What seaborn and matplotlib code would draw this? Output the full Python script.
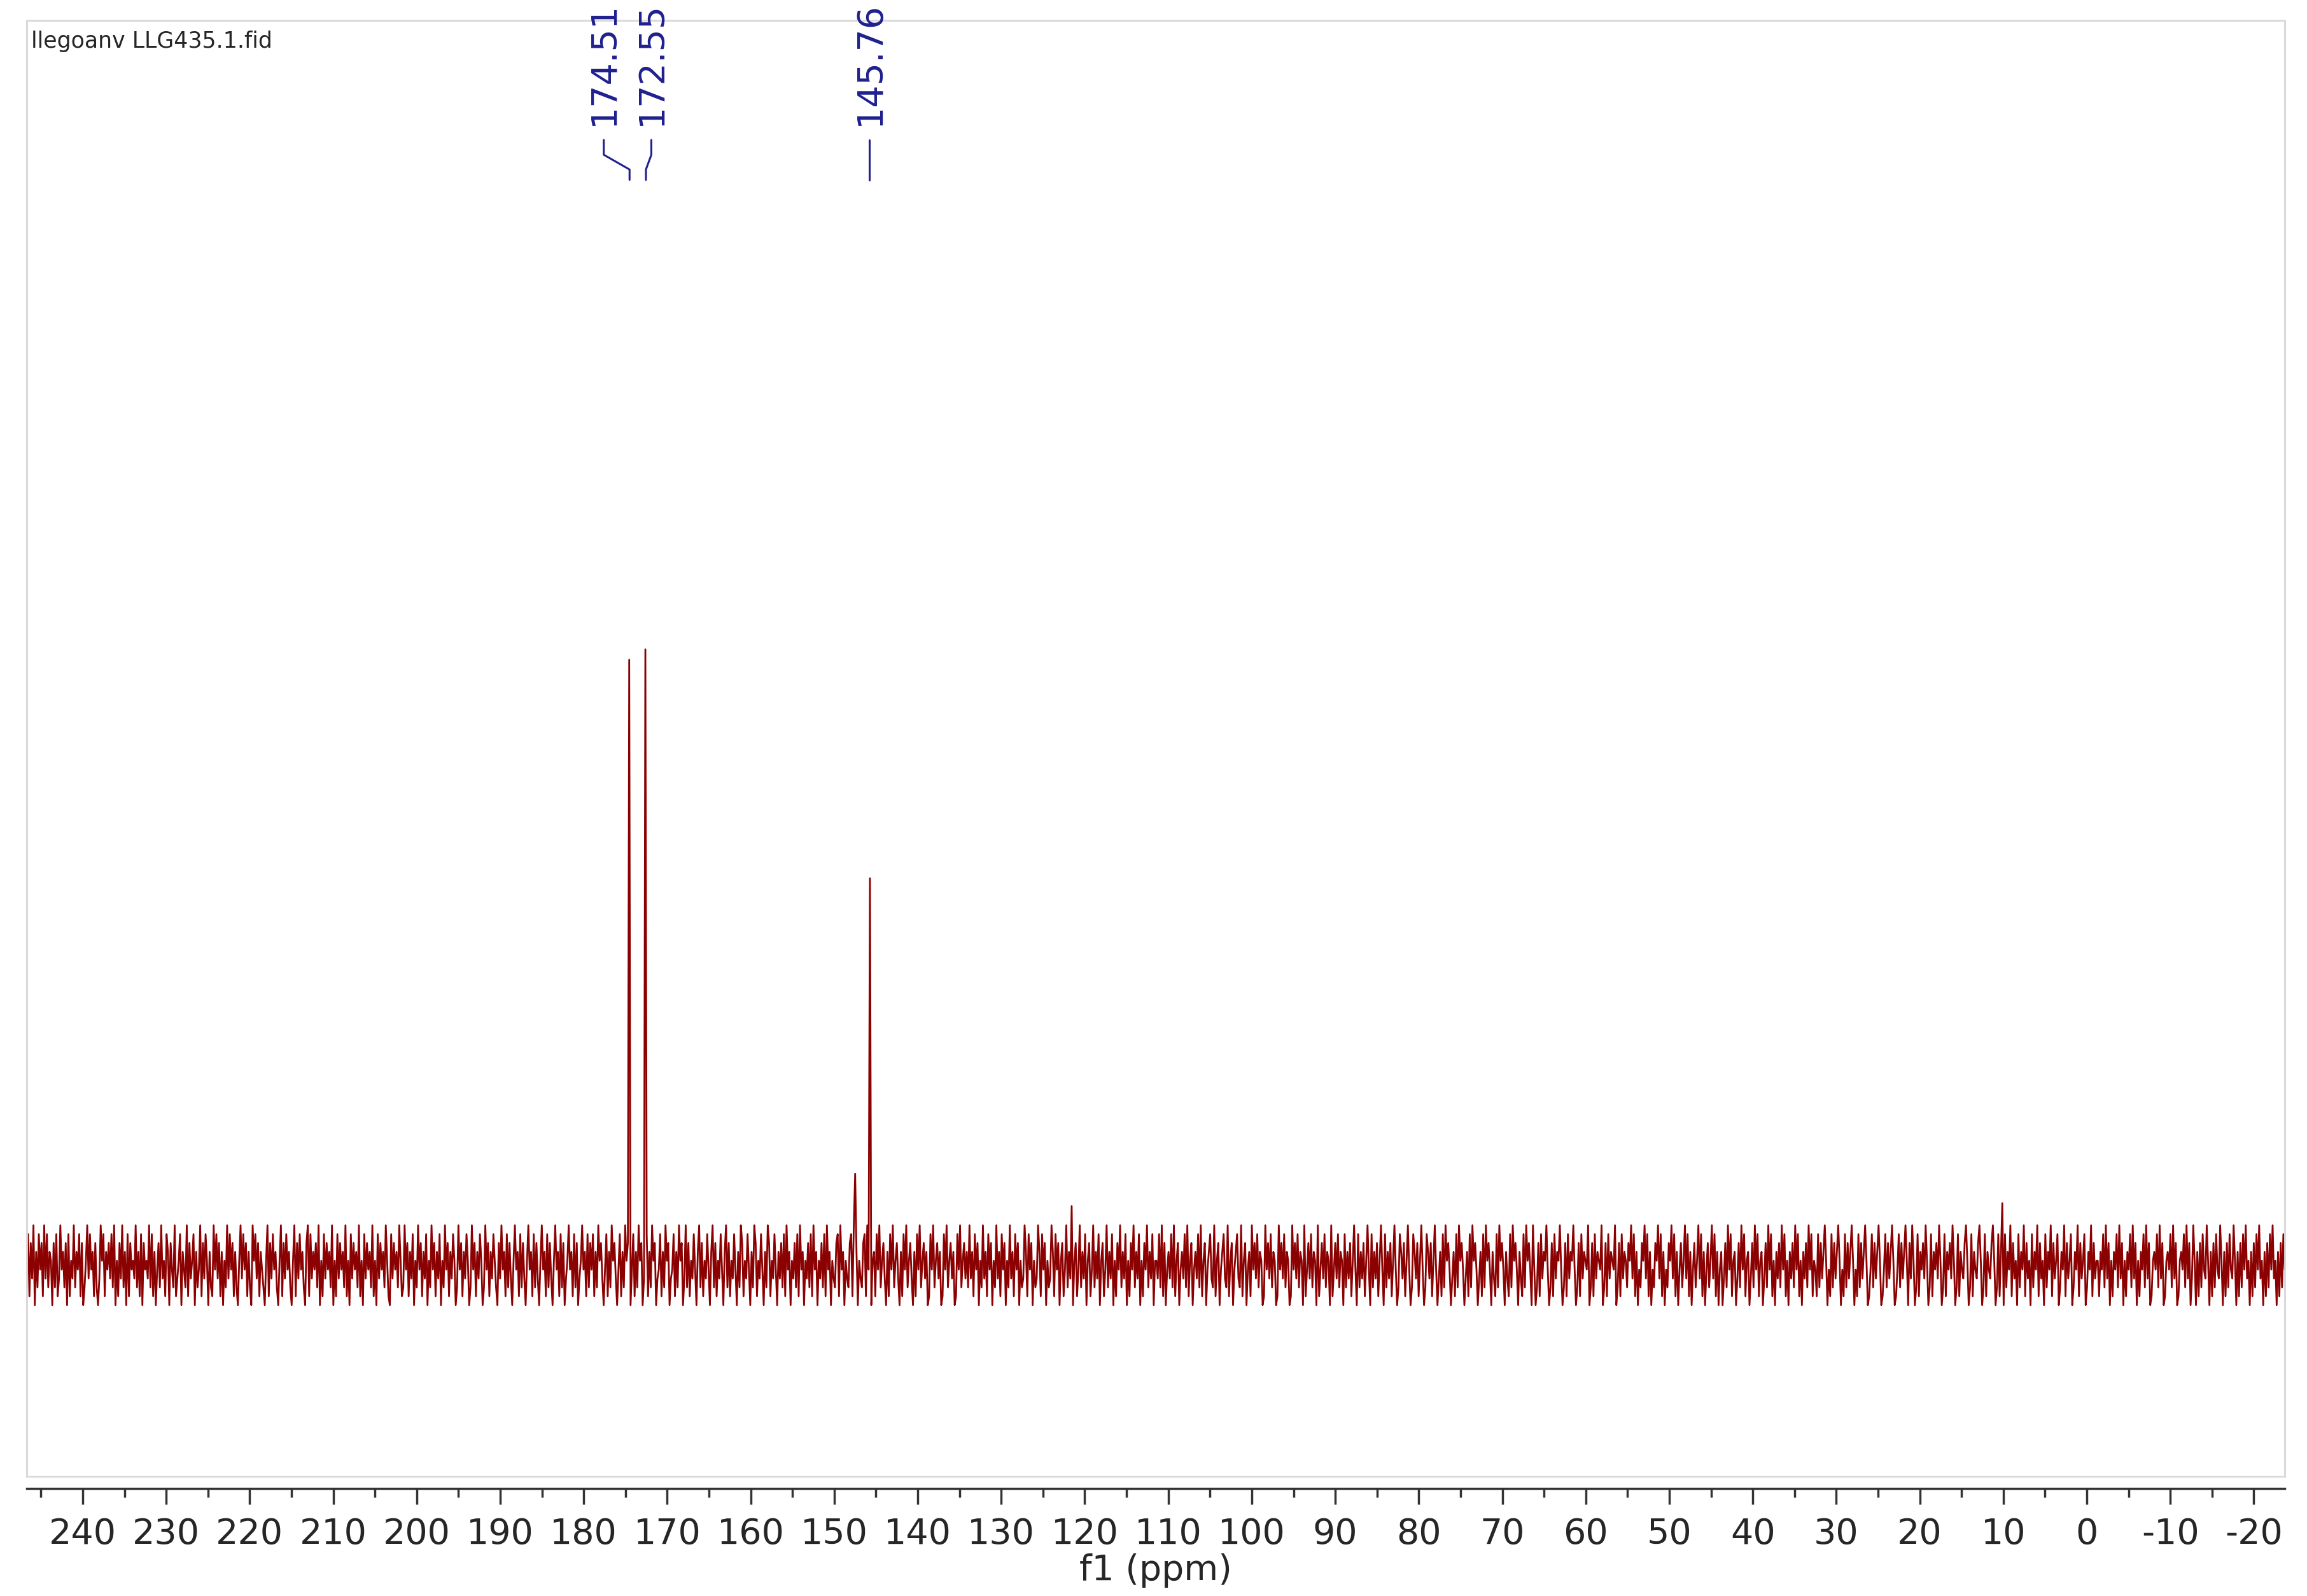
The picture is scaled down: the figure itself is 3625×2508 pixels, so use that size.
import numpy as np
import matplotlib
matplotlib.use("Agg")
import matplotlib.pyplot as plt
import seaborn as sns
from matplotlib.patches import Rectangle

sns.set_theme(style="white")
plt.rcParams['font.family'] = ['DejaVu Sans']

title = "llegoanv LLG435.1.fid"
ppm_left, ppm_right = 246.7, -23.7
# hand-read noise amplitudes (digit 0..9 -> low..high)
noise_digits = (
    "2817390628471938265072813946270815392648170259384617203958164738290517"
    "3926081745392618074539281604729351860742913580642917358062491738506219"
    "4837160529384716205938471620958371642059173846205917384620591738462079"
    "1836472905183746290518374629150837462915083746291508374629510837462951"
    "2947163805294716380529471638052947163850294716385029471638502947163852"
    "0739461827305946182730594618273059461827305946182703594618270359461827"
    "4816295730481629573048162957304816295703481629570348162957034816295703"
    "9271538406927153840692715384069271538406297153840629715384062971538406"
    "3728194605372819460537281946053728194605327819460532781946053278194605"
    "6184925730618492573061849257306184925736018492573601849257360184925736"
    "2936184705293618470529361847052936184705239618470523961847052396184705"
    "7149263805714926380571492638057149263805174926380517492638051749263805"
    "5382917046382915704638291570463829157046832915704683291570468329157046"
    "1947382650194738265019473826501947382650914738265091473826509147382650"
    "8263715940826371594082637159408263715940286371594028637159402863715940"
    "3618295740361829574036182957403618295740631829574063182957406318295740"
    "9402718365940271836594027183659402718365490271836549027183654902718365"
    "2759381604275938160427593816042759381604725938160472593816047259381604"
    "6037294815603729481560372948156037294815063729481506372948150637294815"
    "4182736950418273695041827369504182736950148273695014827369501482736950"
    "7395028164739502816473950281647395028164379502816437950281643795028164"
    "0826491735082649173508264917350826491735802649173580264917358026491735"
    "5164829370516482937051648293705164829370156482937015648293701564829370"
    "3950617284395061728439506172843950617284935061728493506172849350617284"
)
noise = [(int(c) - 4.5) * 6.0 for c in noise_digits]

peak_ppm = [174.51, 172.55, 145.76, 147.45, 121.6, 10.2]
peak_height = [410, 417, 262, 62, 40, 42]
label_ppm = [174.51, 172.55, 145.76]
label_text = ["174.51", "172.55", "145.76"]
label_x = [177.6, 171.9, 145.76]

x = np.linspace(ppm_left, ppm_right, len(noise))
y = np.array(noise, dtype=float)
for p, h in zip(peak_ppm, peak_height):
    i = int(np.argmin(np.abs(x - p)))
    y[i] = h

fig = plt.figure(figsize=(36.25, 25.08), dpi=100)
ax = fig.add_axes([42/3625, 1 - 2320/2508, (3590-42)/3625, (2320-32)/2508])
sns.lineplot(x=x, y=y, ax=ax, color="#8b0000", lw=2.0, estimator=None, sort=False)
ax.set_xlim(ppm_left, ppm_right)
ax.set_ylim(-143, 843)

for s in ["top", "left", "right"]:
    ax.spines[s].set_color("#d9d9d9"); ax.spines[s].set_linewidth(2)
ax.spines["bottom"].set_position(("outward", 14))
ax.spines["bottom"].set_color("#333333"); ax.spines["bottom"].set_linewidth(2.5)
ax.add_patch(Rectangle((0, 0), 1, 1, transform=ax.transAxes, fill=False,
                       ec="#d9d9d9", lw=2, clip_on=False))
ax.set_yticks([])
ax.set_xticks(np.arange(240, -21, -10))
ax.set_xticklabels([str(v) for v in range(240, -21, -10)])
ax.set_xticks(np.arange(245, -25, -5), minor=True)
ax.tick_params(axis="x", which="major", direction="out", length=18, width=2.5,
               color="#333333", labelsize=40, pad=14, bottom=True)
ax.tick_params(axis="x", which="minor", direction="out", length=10, width=2.5,
               color="#333333", bottom=True)
ax.set_xlabel("f1 (ppm)", fontsize=40, labelpad=2)

ax.text(0.002, 0.993, title, transform=ax.transAxes, fontsize=25, va="top", ha="left")

navy = "#1f1f8f"
for lp, lt, lx in zip(label_ppm, label_text, label_x):
    ax.text(lx, 772, lt, rotation=90, fontsize=40, color=navy, ha="center", va="bottom")
    ax.plot([lx, lx, lp, lp], [762, 752, 742, 735], color=navy, lw=2.2)

fig.savefig("out.png", dpi=100)
